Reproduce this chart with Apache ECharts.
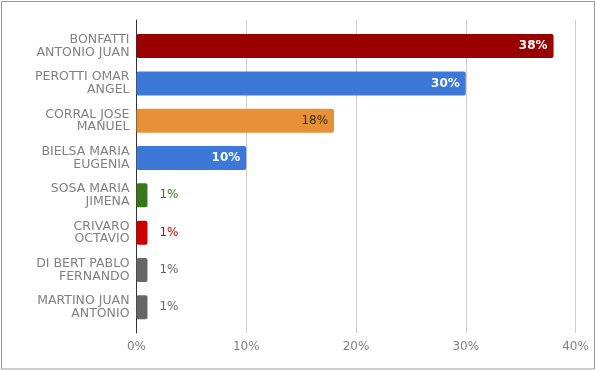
<!DOCTYPE html>
<html>
<head>
<meta charset="utf-8">
<script src="https://cdn.jsdelivr.net/npm/echarts@6/dist/echarts.min.js"></script>
<style>html,body{margin:0;padding:0;background:#fff}#c{width:595px;height:370px}</style>
</head>
<body>
<div id="c"></div>
<script>
// ---- data ----
var categories = [
  "BONFATTI\nANTONIO JUAN",
  "PEROTTI OMAR\nANGEL",
  "CORRAL JOSE\nMANUEL",
  "BIELSA MARIA\nEUGENIA",
  "SOSA MARIA\nJIMENA",
  "CRIVARO\nOCTAVIO",
  "DI BERT PABLO\nFERNANDO",
  "MARTINO JUAN\nANTONIO"
];
var values = [38, 30, 18, 10, 1, 1, 1, 1];
var xTicks = [0, 10, 20, 30, 40];

// ---- styles (separate from data) ----
var barColors = ["#990000", "#3c78d8", "#e69138", "#3c78d8", "#38761d", "#cc0000", "#666666", "#666666"];
var labelStyles = [
  {position: "insideRight", color: "#ffffff", fontWeight: "bold"},
  {position: "insideRight", color: "#ffffff", fontWeight: "bold"},
  {position: "insideRight", color: "#3a2a10", fontWeight: "normal"},
  {position: "insideRight", color: "#ffffff", fontWeight: "bold"},
  {position: "right", color: "#38761d", fontWeight: "normal"},
  {position: "right", color: "#cc0000", fontWeight: "normal"},
  {position: "right", color: "#666666", fontWeight: "normal"},
  {position: "right", color: "#666666", fontWeight: "normal"}
];

var font = "DejaVu Sans";
var chart = echarts.init(document.getElementById("c"), null, {renderer: "canvas"});

var seriesData = values.map(function (v, i) {
  var ls = labelStyles[i];
  return {
    value: v,
    itemStyle: {color: barColors[i]},
    label: {
      show: true,
      position: ls.position,
      distance: ls.position === "right" ? 12 : 6,
      color: ls.color,
      fontWeight: ls.fontWeight,
      fontFamily: font,
      fontSize: 12,
      formatter: "{c}%"
    }
  };
});

var option = {
  animation: false,
  backgroundColor: "#ffffff",
  graphic: [{
    type: "rect",
    shape: {x: 1.5, y: 1.5, width: 593, height: 367.5},
    style: {fill: "none", stroke: "#999999", lineWidth: 1},
    silent: true
  }],
  grid: [
    {left: 136.5, right: 19.5, top: 20, bottom: 37},
    {left: 136.5, right: 19.5, top: 27.4, bottom: 44}
  ],
  xAxis: [
    {
      gridIndex: 0, type: "value", min: xTicks[0], max: xTicks[xTicks.length - 1], interval: 10,
      axisLine: {show: false}, axisTick: {show: false},
      splitLine: {show: true, lineStyle: {color: "#cccccc", width: 1}},
      axisLabel: {color: "#808080", fontFamily: font, fontSize: 12, margin: 8, formatter: "{value}%"}
    },
    {
      gridIndex: 1, type: "value", min: xTicks[0], max: xTicks[xTicks.length - 1], interval: 10,
      show: false
    }
  ],
  yAxis: [
    {
      gridIndex: 0, type: "category", data: categories, inverse: true,
      axisLine: {show: true, lineStyle: {color: "#333333", width: 1}},
      axisTick: {show: false}, axisLabel: {show: false}, splitLine: {show: false}
    },
    {
      gridIndex: 1, type: "category", data: categories, inverse: true,
      axisLine: {show: false}, axisTick: {show: false},
      axisLabel: {color: "#808080", fontFamily: font, fontSize: 12.5, lineHeight: 12.5, margin: 7, align: "right"}
    }
  ],
  series: [{
    type: "bar",
    xAxisIndex: 1, yAxisIndex: 1,
    data: seriesData,
    barWidth: 24,
    itemStyle: {borderRadius: 2}
  }]
};
chart.setOption(option);
</script>
</body>
</html>
